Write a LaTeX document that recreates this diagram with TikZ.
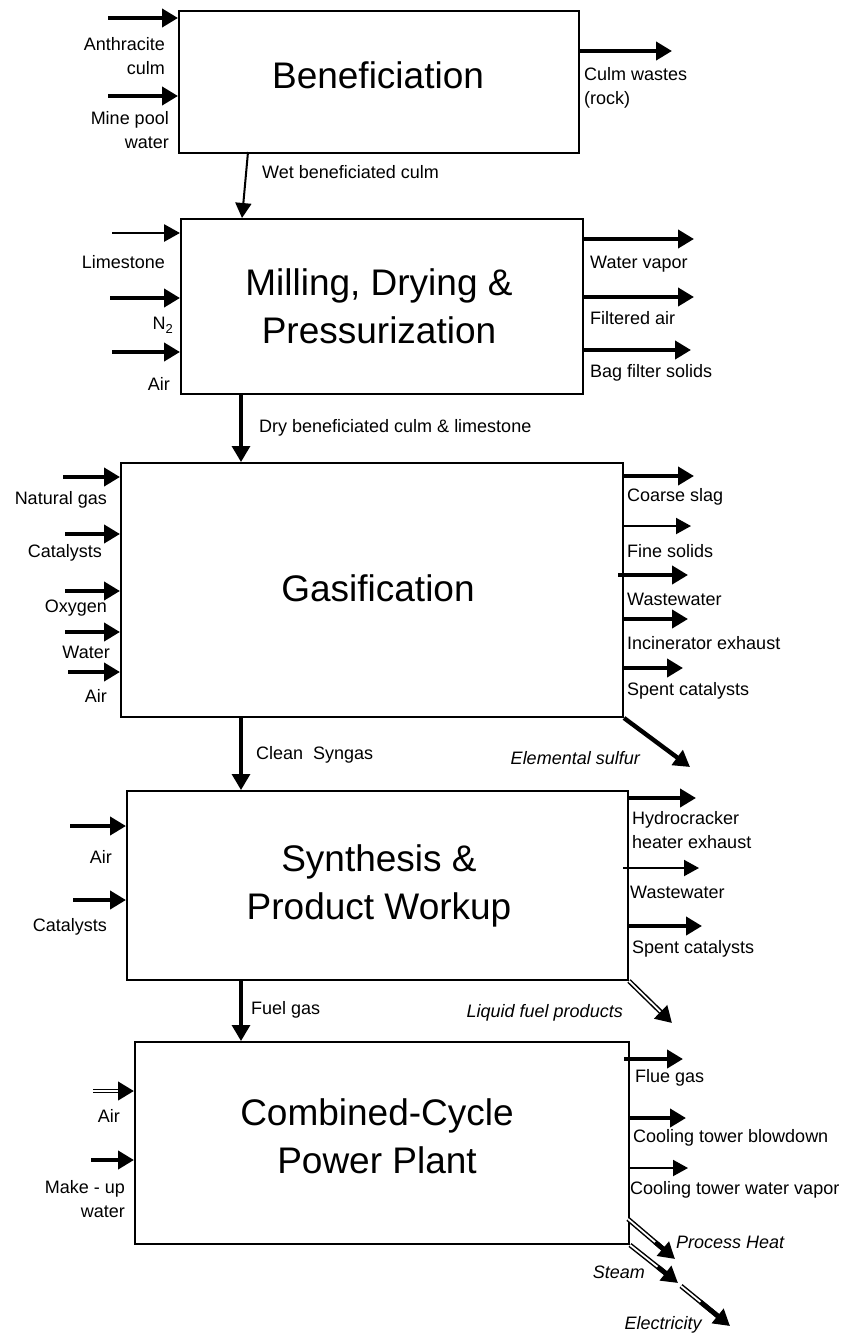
\documentclass[tikz,border=0pt]{standalone}
\usepackage{fontspec}
\setmainfont{Liberation Sans}
\usetikzlibrary{arrows.meta,calc}
\begin{document}
\begin{tikzpicture}[x=1pt,y=-1pt,
  box/.style={draw, line width=2pt, inner sep=0pt, anchor=north west},
  title/.style={font=\fontsize{37}{48}\selectfont, align=center, inner sep=0pt},
  lab/.style={font=\fontsize{18}{23.5}\selectfont, inner sep=0pt},
  labL/.style={lab, anchor=east, align=right},
  labR/.style={lab, anchor=west, align=left},
  labI/.style={lab, font=\fontsize{18}{23.5}\selectfont\itshape},
  thk/.style={line width=4.4pt, -{Triangle[length=16pt,width=18pt]}},
  thn/.style={line width=2pt, -{Triangle[length=15pt,width=16pt]}},
  dbl/.style={double, double distance=1.8pt, line width=1.5pt, shorten >=10pt},
  dtip/.style={line width=4.8pt, -{Triangle[length=16pt,width=18pt]}}
]
\useasboundingbox (0,0) rectangle (849,1336);

% ---------- boxes ----------
\node[box, minimum width=400pt, minimum height=142pt] (b1) at (178,10) {};
\node[box, minimum width=402pt, minimum height=175pt] (b2) at (180,218) {};
\node[box, minimum width=502pt, minimum height=254pt] (b3) at (120,462) {};
\node[box, minimum width=501pt, minimum height=189pt] (b4) at (126,790) {};
\node[box, minimum width=494pt, minimum height=202pt] (b5) at (134,1041) {};

\node[title] (t1) at (378,75) {Beneficiation};
\node[title] (t2) at (379,306) {Milling, Drying \&\\Pressurization};
\node[title] (t3) at (378,588) {Gasification};
\node[title] (t4) at (379,886) {Synthesis \&\\Product Workup};
\node[title] (t5) at (377,1136) {Combined-Cycle\\Power Plant};

% ---------- Beneficiation ----------
\coordinate (a11) at (108,18);
\coordinate (a12) at (108,96);
\coordinate (o11) at (672,51);
\draw[thk] (a11) -- (a11 -| b1.west);
\draw[thk] (a12) -- (a12 -| b1.west);
\draw[thk] (o11 -| b1.east) -- (o11);
\node[labL] (l11) at (165,56) {Anthracite\\culm};
\node[labL] (l12) at (169,130) {Mine pool\\water};
\node[labR] (r11) at (584,88) {Culm wastes\\(rock)};

\coordinate (d1s) at (248,152);
\coordinate (d1e) at (242,218);
\draw[thn] (d1s) -- (d1e);
\node[labR] (d1l) at (262,172) {Wet beneficiated culm};

% ---------- Milling ----------
\coordinate (a21) at (112,233);
\coordinate (a22) at (110,298);
\coordinate (a23) at (112,352);
\draw[line width=2.8pt, -{Triangle[length=16pt,width=17pt]}] (a21) -- (a21 -| b2.west);
\draw[thk] (a22) -- (a22 -| b2.west);
\draw[thk] (a23) -- (a23 -| b2.west);
\node[labL] (l21) at (165,262) {Limestone};
\node[labL] (l22) at (173,325) {N\raisebox{-0.45ex}{\fontsize{13}{13}\selectfont 2}};
\node[labL] (l23) at (170,384) {Air};

\coordinate (o21) at (694,239);
\coordinate (o22) at (694,297);
\coordinate (o23) at (691,350);
\draw[thk] (o21 -| b2.east) -- (o21);
\draw[thk] (o22 -| b2.east) -- (o22);
\draw[thk] (o23 -| b2.east) -- (o23);
\node[labR] (r21) at (590,264) {Water vapor};
\node[labR] (r22) at (590,318) {Filtered air};
\node[labR] (r23) at (590,373) {Bag filter solids};

\coordinate (d2s) at (241,393);
\draw[thk, line width=3.2pt] (d2s) -- (d2s |- b3.north);
\node[labR] (d2l) at (259,428) {Dry beneficiated culm \& limestone};

% ---------- Gasification ----------
\coordinate (a31) at (63,477);
\coordinate (a32) at (65,534);
\coordinate (a33) at (65,591);
\coordinate (a34) at (65,632);
\coordinate (a35) at (68,672);
\foreach \c in {a31,a32,a33,a34,a35} \draw[thk] (\c) -- (\c -| b3.west);
\node[labL] (l31) at (107,500) {Natural gas};
\node[labL] (l32) at (102,553) {Catalysts};
\node[labL] (l33) at (107,608) {Oxygen};
\node[labL] (l34) at (110,652) {Water};
\node[labL] (l35) at (107,696) {Air};

\coordinate (o31) at (694,476);
\coordinate (o32) at (691,526);
\coordinate (s33) at (618,575);
\coordinate (o33) at (688,575);
\coordinate (o34) at (688,619);
\coordinate (o35) at (683,668);
\draw[thk] (o31 -| b3.east) -- (o31);
\draw[thn] (o32 -| b3.east) -- (o32);
\draw[thk] (s33) -- (o33);
\draw[thk] (o34 -| b3.east) -- (o34);
\draw[thk] (o35 -| b3.east) -- (o35);
\node[labR] (r31) at (627,497) {Coarse slag};
\node[labR] (r32) at (627,551) {Fine solids};
\node[labR] (r33) at (627,599) {Wastewater};
\node[labR] (r34) at (627,643) {Incinerator exhaust};
\node[labR] (r35) at (627,691) {Spent catalysts};

\coordinate (o36) at (690,767);
\draw[thk] (b3.south east) -- (o36);
\node[labI, anchor=east] (r36) at (640,758) {Elemental sulfur};

\coordinate (d3s) at (241,716);
\draw[thk, line width=3.2pt] (d3s) -- (d3s |- b4.north);
\node[labR] (d3l) at (256,755) {Clean\ \ Syngas};

% ---------- Synthesis ----------
\coordinate (a41) at (70,826);
\coordinate (a42) at (73,900);
\draw[thk] (a41) -- (a41 -| b4.west);
\draw[thk] (a42) -- (a42 -| b4.west);
\node[labL] (l41) at (112,857) {Air};
\node[labL] (l42) at (107,927) {Catalysts};

\coordinate (o41) at (696,798);
\coordinate (s42) at (623,868);
\coordinate (o42) at (699,868);
\coordinate (o43) at (702,926);
\draw[thk] (o41 -| b4.east) -- (o41);
\draw[thn] (s42) -- (o42);
\draw[thk] (o43 -| b4.east) -- (o43);
\node[labR] (r41) at (632,830) {Hydrocracker\\heater exhaust};
\node[labR] (r42) at (630,892) {Wastewater};
\node[labR] (r43) at (632,949) {Spent catalysts};

\coordinate (o44) at (672,1023);
\draw[dbl] (b4.south east) -- (o44);
\draw[dtip] ($(o44)!14pt!(b4.south east)$) -- (o44);
\node[labI, anchor=east] (r44) at (623,1013) {Liquid fuel products};

\coordinate (d4s) at (241,979);
\draw[thk, line width=3.2pt] (d4s) -- (d4s |- b5.north);
\node[labR] (d4l) at (251,1010) {Fuel gas};

% ---------- Combined cycle ----------
\coordinate (a51) at (93,1091);
\coordinate (a52) at (91,1160);
\draw[dbl] (a51) -- (a51 -| b5.west);
\draw[dtip] ($(a51 -| b5.west)+(-14,0)$) -- (a51 -| b5.west);
\draw[thk] (a52) -- (a52 -| b5.west);
\node[labL] (l51) at (120,1116) {Air};
\node[labL] (l52) at (125,1199) {Make - up\\water};

\coordinate (s51) at (624,1059);
\coordinate (o51) at (683,1059);
\coordinate (o52) at (686,1118);
\coordinate (o53) at (688,1168);
\draw[thk] (s51) -- (o51);
\draw[thk] (o52 -| b5.east) -- (o52);
\draw[thn] (o53 -| b5.east) -- (o53);
\node[labR] (r51) at (635,1078) {Flue gas};
\node[labR] (r52) at (633,1138) {Cooling tower blowdown};
\node[labR] (r53) at (630,1190) {Cooling tower water vapor};

\coordinate (s54) at (628,1219);
\coordinate (o54) at (675,1259);
\draw[dbl] (s54) -- (o54);
\draw[dtip] ($(o54)!26pt!(s54)$) -- (o54);
\node[labI, anchor=west] (r54) at (676,1242) {Process Heat};

\coordinate (o55) at (678,1283);
\draw[dbl] (b5.south east) -- (o55);
\draw[dtip] ($(o55)!26pt!(b5.south east)$) -- (o55);
\node[labI, anchor=east] (r55) at (645,1272) {Steam};

\coordinate (s56) at (681,1286);
\coordinate (o56) at (730,1326);
\draw[dbl] (s56) -- (o56);
\draw[dtip] ($(o56)!38pt!(s56)$) -- (o56);
\node[labI] (r56) at (663,1325) {Electricity};
\end{tikzpicture}
\end{document}
